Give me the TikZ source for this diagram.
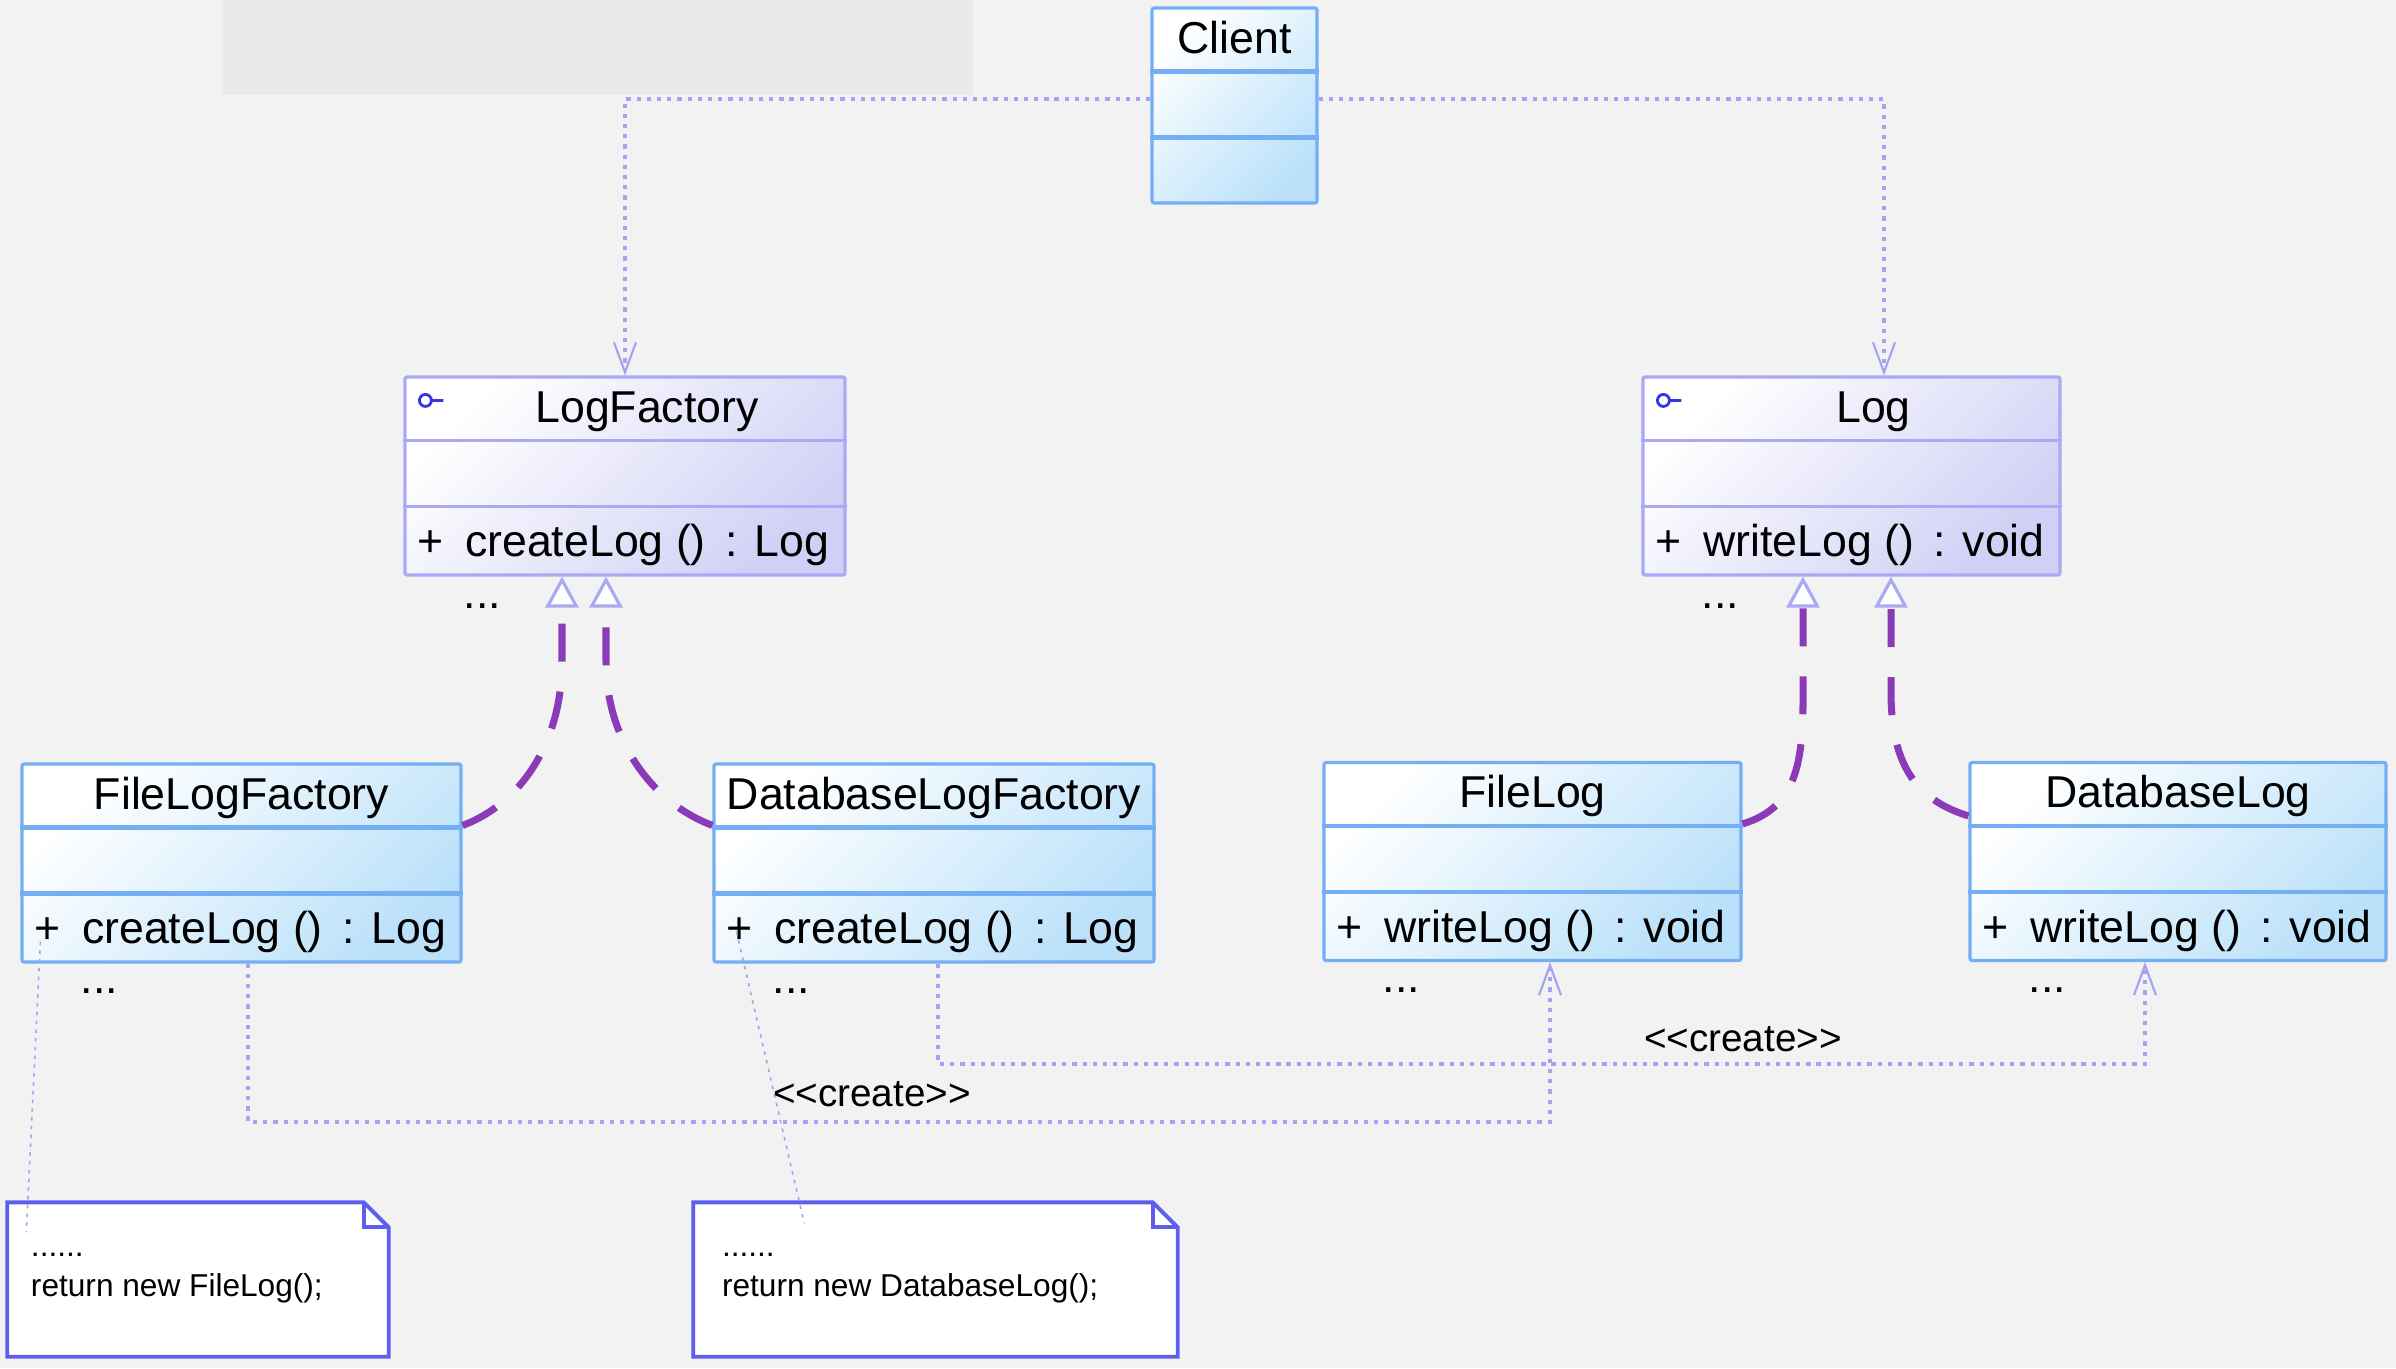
\documentclass[tikz,border=0pt]{standalone}
\usepackage{fontspec}
\setmainfont{Liberation Sans}
\usetikzlibrary{arrows.meta,calc,positioning}
\definecolor{canvas}{HTML}{F2F2F2}
\definecolor{bandgray}{HTML}{EAEAEA}
\definecolor{clsline}{HTML}{74AEF3}
\definecolor{clsfill}{HTML}{BBE1FA}
\definecolor{ifcline}{HTML}{A9A9F4}
\definecolor{ifcfill}{HTML}{D0D0F6}
\definecolor{depline}{HTML}{A3A3F2}
\definecolor{realline}{HTML}{8B3BB8}
\definecolor{noteline}{HTML}{5E5EEE}
\definecolor{iconblue}{HTML}{3535E6}
\newcommand{\clsfont}{\fontsize{12.7}{15}\selectfont}
\newcommand{\crtag}{<\kern0pt<create>\kern0pt>}
\tikzset{
  clsbox/.style={draw=clsline, line width=0.9pt, top color=white, bottom color=clsfill, shading angle=45, rounded corners=0.6pt, minimum height=1.98cm, inner sep=0pt},
  ifcbox/.style={draw=ifcline, line width=0.9pt, top color=white, bottom color=ifcfill, shading angle=45, rounded corners=0.6pt, minimum height=1.98cm, inner sep=0pt},
  clsdiv/.style={draw=clsline, line width=1.2pt},
  ifcdiv/.style={draw=ifcline, line width=1.0pt},
  clstitle/.style={font=\clsfont, inner sep=0pt, anchor=base},
  clsop/.style={font=\clsfont, inner sep=0pt, anchor=base west},
  clsmore/.style={font=\clsfont, inner sep=0pt, anchor=base},
  deparrow/.style={draw=depline, line width=1.1pt, dash pattern=on 1.2pt off 1.7pt, -{Straight Barb[length=3mm,width=2.2mm,line width=0.6pt]}},
  realarrow/.style={draw=realline, line width=2pt, dash pattern=on 0.38cm off 0.3cm, -{Triangle[open, fill=white, color=ifcline, length=3.1mm, width=3.3mm, line width=0.9pt]}},
  notebox/.style={fill=white, inner sep=0pt, minimum height=1.53cm},
  notetext/.style={font=\fontsize{9}{11.4}\selectfont, inner sep=0pt, align=left, anchor=base west},
  noteedge/.style={draw=noteline, line width=1.1pt},
  notelink/.style={draw=depline, line width=0.45pt, dash pattern=on 1pt off 1.5pt},
  stereo/.style={font=\fontsize{11}{13}\selectfont, inner sep=0pt}
}

\begin{document}
\begin{tikzpicture}[x=1cm,y=1cm]
  \useasboundingbox (0,0) rectangle (23.96,-13.68);
  \fill[canvas] (0,0) rectangle (23.96,-13.68);
  \fill[bandgray] (2.23,0) rectangle (9.73,-0.95);

  % client
  \node[clsbox, minimum width=1.65cm, minimum height=1.95cm] (client) at (12.345,-1.055) {};
  \node[clstitle] (client-t) at ([yshift=-0.47cm]client.north) {Client};

  % abstract factory and product
  \node[ifcbox, minimum width=4.40cm] (lf) at (6.25,-4.76) {};
  \node[ifcbox, minimum width=4.17cm] (lg) at (18.515,-4.76) {};
  \node[clstitle] (lf-t) at ([xshift=0.22cm,yshift=-0.47cm]lf.north) {LogFactory};
  \node[clstitle] (lg-t) at ([xshift=0.22cm,yshift=-0.47cm]lg.north) {Log};
  \node[clsop] (lf-op) at ([shift={(0.13,0.20)}]lf.south west) {+\hspace{0.22cm}createLog ()\, : Log};
  \node[clsop] (lg-op) at ([shift={(0.13,0.20)}]lg.south west) {+\hspace{0.22cm}writeLog ()\, : void};
  \node[clsmore] (lf-m) at ([shift={(0.79,-0.32)}]lf.south west) {...};
  \node[clsmore] (lg-m) at ([shift={(0.79,-0.32)}]lg.south west) {...};
  \foreach \c in {lf,lg} {
    \draw[ifcdiv] ([yshift=-0.65cm]\c.north west) -- ([yshift=-0.65cm]\c.north east);
    \draw[ifcdiv] ([yshift=-1.31cm]\c.north west) -- ([yshift=-1.31cm]\c.north east);
    \draw[iconblue, line width=0.8pt] ([shift={(0.22,-0.25)}]\c.north west) circle (0.06) ++(0.06,0) -- ++(0.12,0);
  }

  % concrete classes
  \node[clsbox, minimum width=4.39cm] (flf) at (2.415,-8.63) {};
  \node[clsbox, minimum width=4.40cm] (dlf) at (9.34,-8.63) {};
  \node[clsbox, minimum width=4.17cm] (fl) at (15.325,-8.615) {};
  \node[clsbox, minimum width=4.16cm] (dl) at (21.78,-8.615) {};
  \node[clstitle] (flf-t) at ([yshift=-0.47cm]flf.north) {FileLogFactory};
  \node[clstitle] (dlf-t) at ([yshift=-0.47cm]dlf.north) {DatabaseLogFactory};
  \node[clstitle] (fl-t) at ([yshift=-0.47cm]fl.north) {FileLog};
  \node[clstitle] (dl-t) at ([yshift=-0.47cm]dl.north) {DatabaseLog};
  \node[clsop] (flf-op) at ([shift={(0.13,0.20)}]flf.south west) {+\hspace{0.22cm}createLog ()\, : Log};
  \node[clsop] (dlf-op) at ([shift={(0.13,0.20)}]dlf.south west) {+\hspace{0.22cm}createLog ()\, : Log};
  \node[clsop] (fl-op) at ([shift={(0.13,0.20)}]fl.south west) {+\hspace{0.22cm}writeLog ()\, : void};
  \node[clsop] (dl-op) at ([shift={(0.13,0.20)}]dl.south west) {+\hspace{0.22cm}writeLog ()\, : void};
  \foreach \c in {flf,dlf,fl,dl} {
    \node[clsmore] at ([shift={(0.79,-0.30)}]\c.south west) {...};
  }
  \foreach \c in {client,flf,dlf,fl,dl} {
    \draw[clsdiv] ([yshift=-0.65cm]\c.north west) -- ([yshift=-0.65cm]\c.north east);
    \draw[clsdiv] ([yshift=-1.31cm]\c.north west) -- ([yshift=-1.31cm]\c.north east);
  }

  % notes
  \node[notebox, minimum width=3.80cm] (nt1) at (1.98,-12.795) {};
  \node[notebox, minimum width=4.83cm] (nt2) at (9.355,-12.795) {};
  \foreach \n in {nt1,nt2} {
    \fill[canvas] ([xshift=-0.25cm]\n.north east) -- (\n.north east) -- ([yshift=-0.25cm]\n.north east) -- cycle;
    \draw[noteedge] (\n.south west) -- (\n.north west) -- ([xshift=-0.25cm]\n.north east)
      -- ([yshift=-0.25cm]\n.north east) -- (\n.south east) -- cycle;
    \draw[noteedge] ([xshift=-0.25cm]\n.north east) -- ([xshift=-0.25cm,yshift=-0.25cm]\n.north east)
      -- ([yshift=-0.25cm]\n.north east);
  }
  \node[notetext] (nt1-x) at ([shift={(0.23,-0.94)}]nt1.north west) {......\\return new FileLog();};
  \node[notetext] (nt2-x) at ([shift={(0.28,-0.94)}]nt2.north west) {......\\return new DatabaseLog();};
  \draw[notelink] ([shift={(0.20,0.22)}]flf.south west) -- ([shift={(0.19,-0.30)}]nt1.north west);
  \draw[notelink] ([shift={(0.24,0.32)}]dlf.south west) -- ([shift={(1.11,-0.21)}]nt2.north west);

  % client dependencies
  \draw[deparrow] ([yshift=0.065cm]client.west) -| (lf.north);
  \draw[deparrow] ([yshift=0.065cm]client.east) -| ([xshift=0.325cm]lg.north);

  % realizations
  \draw[realarrow] ([yshift=-0.63cm]flf.north east) .. controls +(0.59,0.22) and +(0,-0.80)
    .. ([xshift=-0.63cm,yshift=-0.85cm]lf.south) -- ([xshift=-0.63cm]lf.south);
  \draw[realarrow] ([yshift=-0.63cm]dlf.north west) .. controls +(-0.59,0.22) and +(0,-0.80)
    .. ([xshift=-0.19cm,yshift=-0.85cm]lf.south) -- ([xshift=-0.19cm]lf.south);
  \draw[realarrow] ([yshift=-0.63cm]fl.north east) .. controls +(0.49,0.15) and +(0,-0.70)
    .. ([xshift=-0.485cm,yshift=-1.25cm]lg.south) -- ([xshift=-0.485cm]lg.south);
  \draw[realarrow] ([yshift=-0.55cm]dl.north west) .. controls +(-0.55,0.17) and +(0,-0.70)
    .. ([xshift=0.395cm,yshift=-1.15cm]lg.south) -- ([xshift=0.395cm]lg.south);

  % create dependencies
  \draw[deparrow] ([xshift=0.065cm]flf.south) -- ++(0,-1.58) -| ([xshift=0.175cm]fl.south);
  \draw[deparrow] ([xshift=0.04cm]dlf.south) -- ++(0,-1.00) -| ([xshift=-0.33cm]dl.south);
  \node[stereo] (cr1) at (8.72,-10.94) {\crtag};
  \node[stereo] (cr2) at (17.43,-10.39) {\crtag};

\end{tikzpicture}
\end{document}
